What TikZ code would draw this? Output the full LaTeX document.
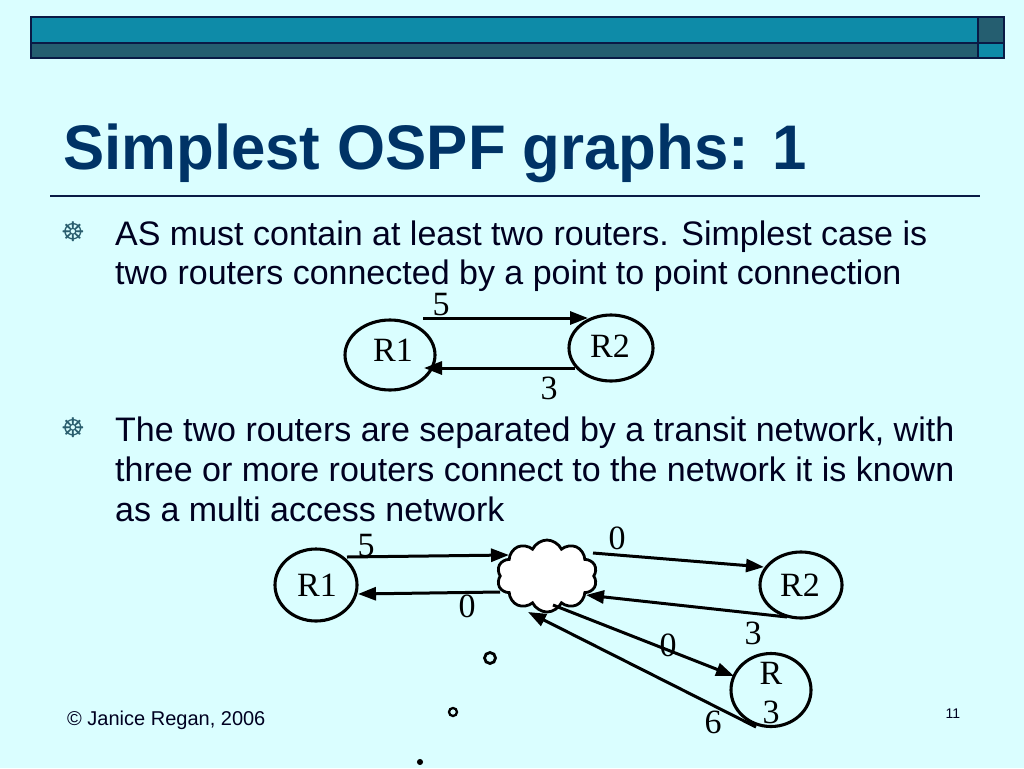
\documentclass[tikz,border=0pt]{standalone}
\usepackage{fontspec}
\setmainfont{Liberation Sans}
\newfontfamily\tms{Liberation Serif}
\newfontfamily\djv{DejaVu Sans}
\usetikzlibrary{shapes.geometric,shapes.symbols,arrows.meta}
\definecolor{bg}{HTML}{DAFEFF}
\definecolor{barteal}{HTML}{0E8BA8}
\definecolor{bardark}{HTML}{255E70}
\definecolor{barline}{HTML}{0A1A45}
\definecolor{titlec}{HTML}{003366}
\definecolor{bodyc}{HTML}{000020}
\definecolor{bulc}{HTML}{2A5E6E}
\tikzset{
  router/.style={draw=black,line width=3.1pt,ellipse,inner sep=0pt},
  arr/.style={line width=3pt,-{Triangle[length=18pt,width=13pt]}},
  lbl/.style={font=\tms\fontsize{34}{40}\selectfont,text=black,inner sep=0pt},
  body/.style={font=\fontsize{34}{40}\selectfont,text=bodyc,anchor=base west,inner sep=0pt},
  bul/.style={font=\djv\fontsize{27}{30}\selectfont,text=bulc,inner sep=0pt},
  bubble/.style={draw=black,line width=2.8pt,circle,inner sep=0pt}
}
\begin{document}
\begin{tikzpicture}[x=1pt,y=-1pt]
\useasboundingbox (0,0) rectangle (1024,768);
\fill[bg] (0,0) rectangle (1024,768);
% top bars
\draw[barline,line width=1.2pt,fill=barteal] (31,17) rectangle (978,43);
\draw[barline,line width=1.2pt,fill=bardark] (978,17) rectangle (1004,43);
\draw[barline,line width=1.2pt,fill=bardark] (31,43) rectangle (978,58);
\draw[barline,line width=1.2pt,fill=barteal] (978,43) rectangle (1004,58);
% title
\node[anchor=base west,inner sep=0pt,text=titlec,font=\bfseries\fontsize{63}{70}\selectfont,xscale=0.98] (title) at (63,169) {Simplest OSPF graphs: 1};
\draw[barline,line width=1.3pt] (50,196) -- (980,196);
% bullets
\node[bul] (b1) at (73,232) {☸};
\node[body] (t1) at (115,245) {AS must contain at least two routers. Simplest case is};
\node[body] (t2) at (115,284) {two routers connected by a point to point connection};
\node[bul] (b2) at (73,428) {☸};
\node[body] (t3) at (115,441) {The two routers are separated by a transit network, with};
\node[body] (t4) at (115,481) {three or more routers connect to the network it is known};
\node[body] (t5) at (115,521) {as a multi access network};
% diagram 1
\node[router,minimum width=90pt,minimum height=70pt] (ar1) at (390,355) {};
\node[lbl] (ar1t) at (393,350) {R1};
\node[router,minimum width=84pt,minimum height=66pt] (ar2) at (611,348) {};
\node[lbl] (ar2t) at (610,346) {R2};
\coordinate (a12s) at (423,318);
\coordinate (a12e) at (588,318);
\coordinate (a21s) at (575,368);
\coordinate (a21e) at (424,368);
\draw[arr] (a12s) -- (a12e);
\draw[arr] (a21s) -- (a21e);
\node[lbl] (l5a) at (441,305) {5};
\node[lbl] (l3a) at (549,388) {3};
% diagram 2
\node[router,minimum width=82pt,minimum height=72pt] (br1) at (316,585) {};
\node[lbl] (br1t) at (317,585) {R1};
\node[cloud,cloud puffs=10,cloud puff arc=130,aspect=1.4,draw=black,fill=white,line width=2.8pt,minimum width=100pt,minimum height=72pt,inner sep=0pt] (net) at (547,576) {};
\node[router,minimum width=82pt,minimum height=66pt] (br2) at (801,585) {};
\node[lbl] (br2t) at (800,585) {R2};
\node[router,minimum width=80pt,minimum height=73pt] (br3) at (771,690) {};
\node[lbl] (br3r) at (771,673) {R};
\node[lbl] (br3n) at (771,712) {3};
\coordinate (c1s) at (347,557);
\coordinate (c1e) at (509,555);
\coordinate (c2s) at (500,592);
\coordinate (c2e) at (358,594);
\coordinate (c3s) at (593,553);
\coordinate (c3e) at (764,567);
\coordinate (c4s) at (787,617);
\coordinate (c4e) at (586,595);
\coordinate (c5s) at (553,605);
\coordinate (c5e) at (734,676);
\coordinate (c6s) at (756,727);
\coordinate (c6e) at (528,612);
\draw[arr] (c1s) -- (c1e);
\draw[arr] (c2s) -- (c2e);
\draw[arr] (c3s) -- (c3e);
\draw[arr] (c4s) -- (c4e);
\draw[arr] (c5s) -- (c5e);
\draw[arr] (c6s) -- (c6e);
\node[lbl] (lb5) at (366,546) {5};
\node[lbl] (lb0a) at (467,606) {0};
\node[lbl] (lb0b) at (617,538) {0};
\node[lbl] (lb3) at (753,633) {3};
\node[lbl] (lb0c) at (668,645) {0};
\node[lbl] (lb6) at (713,722) {6};
\node[bubble,minimum size=11pt] (bb1) at (490,658) {};
\node[bubble,minimum size=8pt,line width=2.3pt] (bb2) at (453,712) {};
\node[bubble,minimum size=5pt,fill=black,line width=1pt] (bb3) at (420,762) {};
% footer
\node[anchor=base west,inner sep=0pt,text=bodyc,font=\fontsize{20}{22}\selectfont] (foot) at (67,725) {© Janice Regan, 2006};
\node[anchor=base,inner sep=0pt,text=bodyc,font=\fontsize{14}{16}\selectfont] (pg) at (953,718) {11};
\end{tikzpicture}
\end{document}
